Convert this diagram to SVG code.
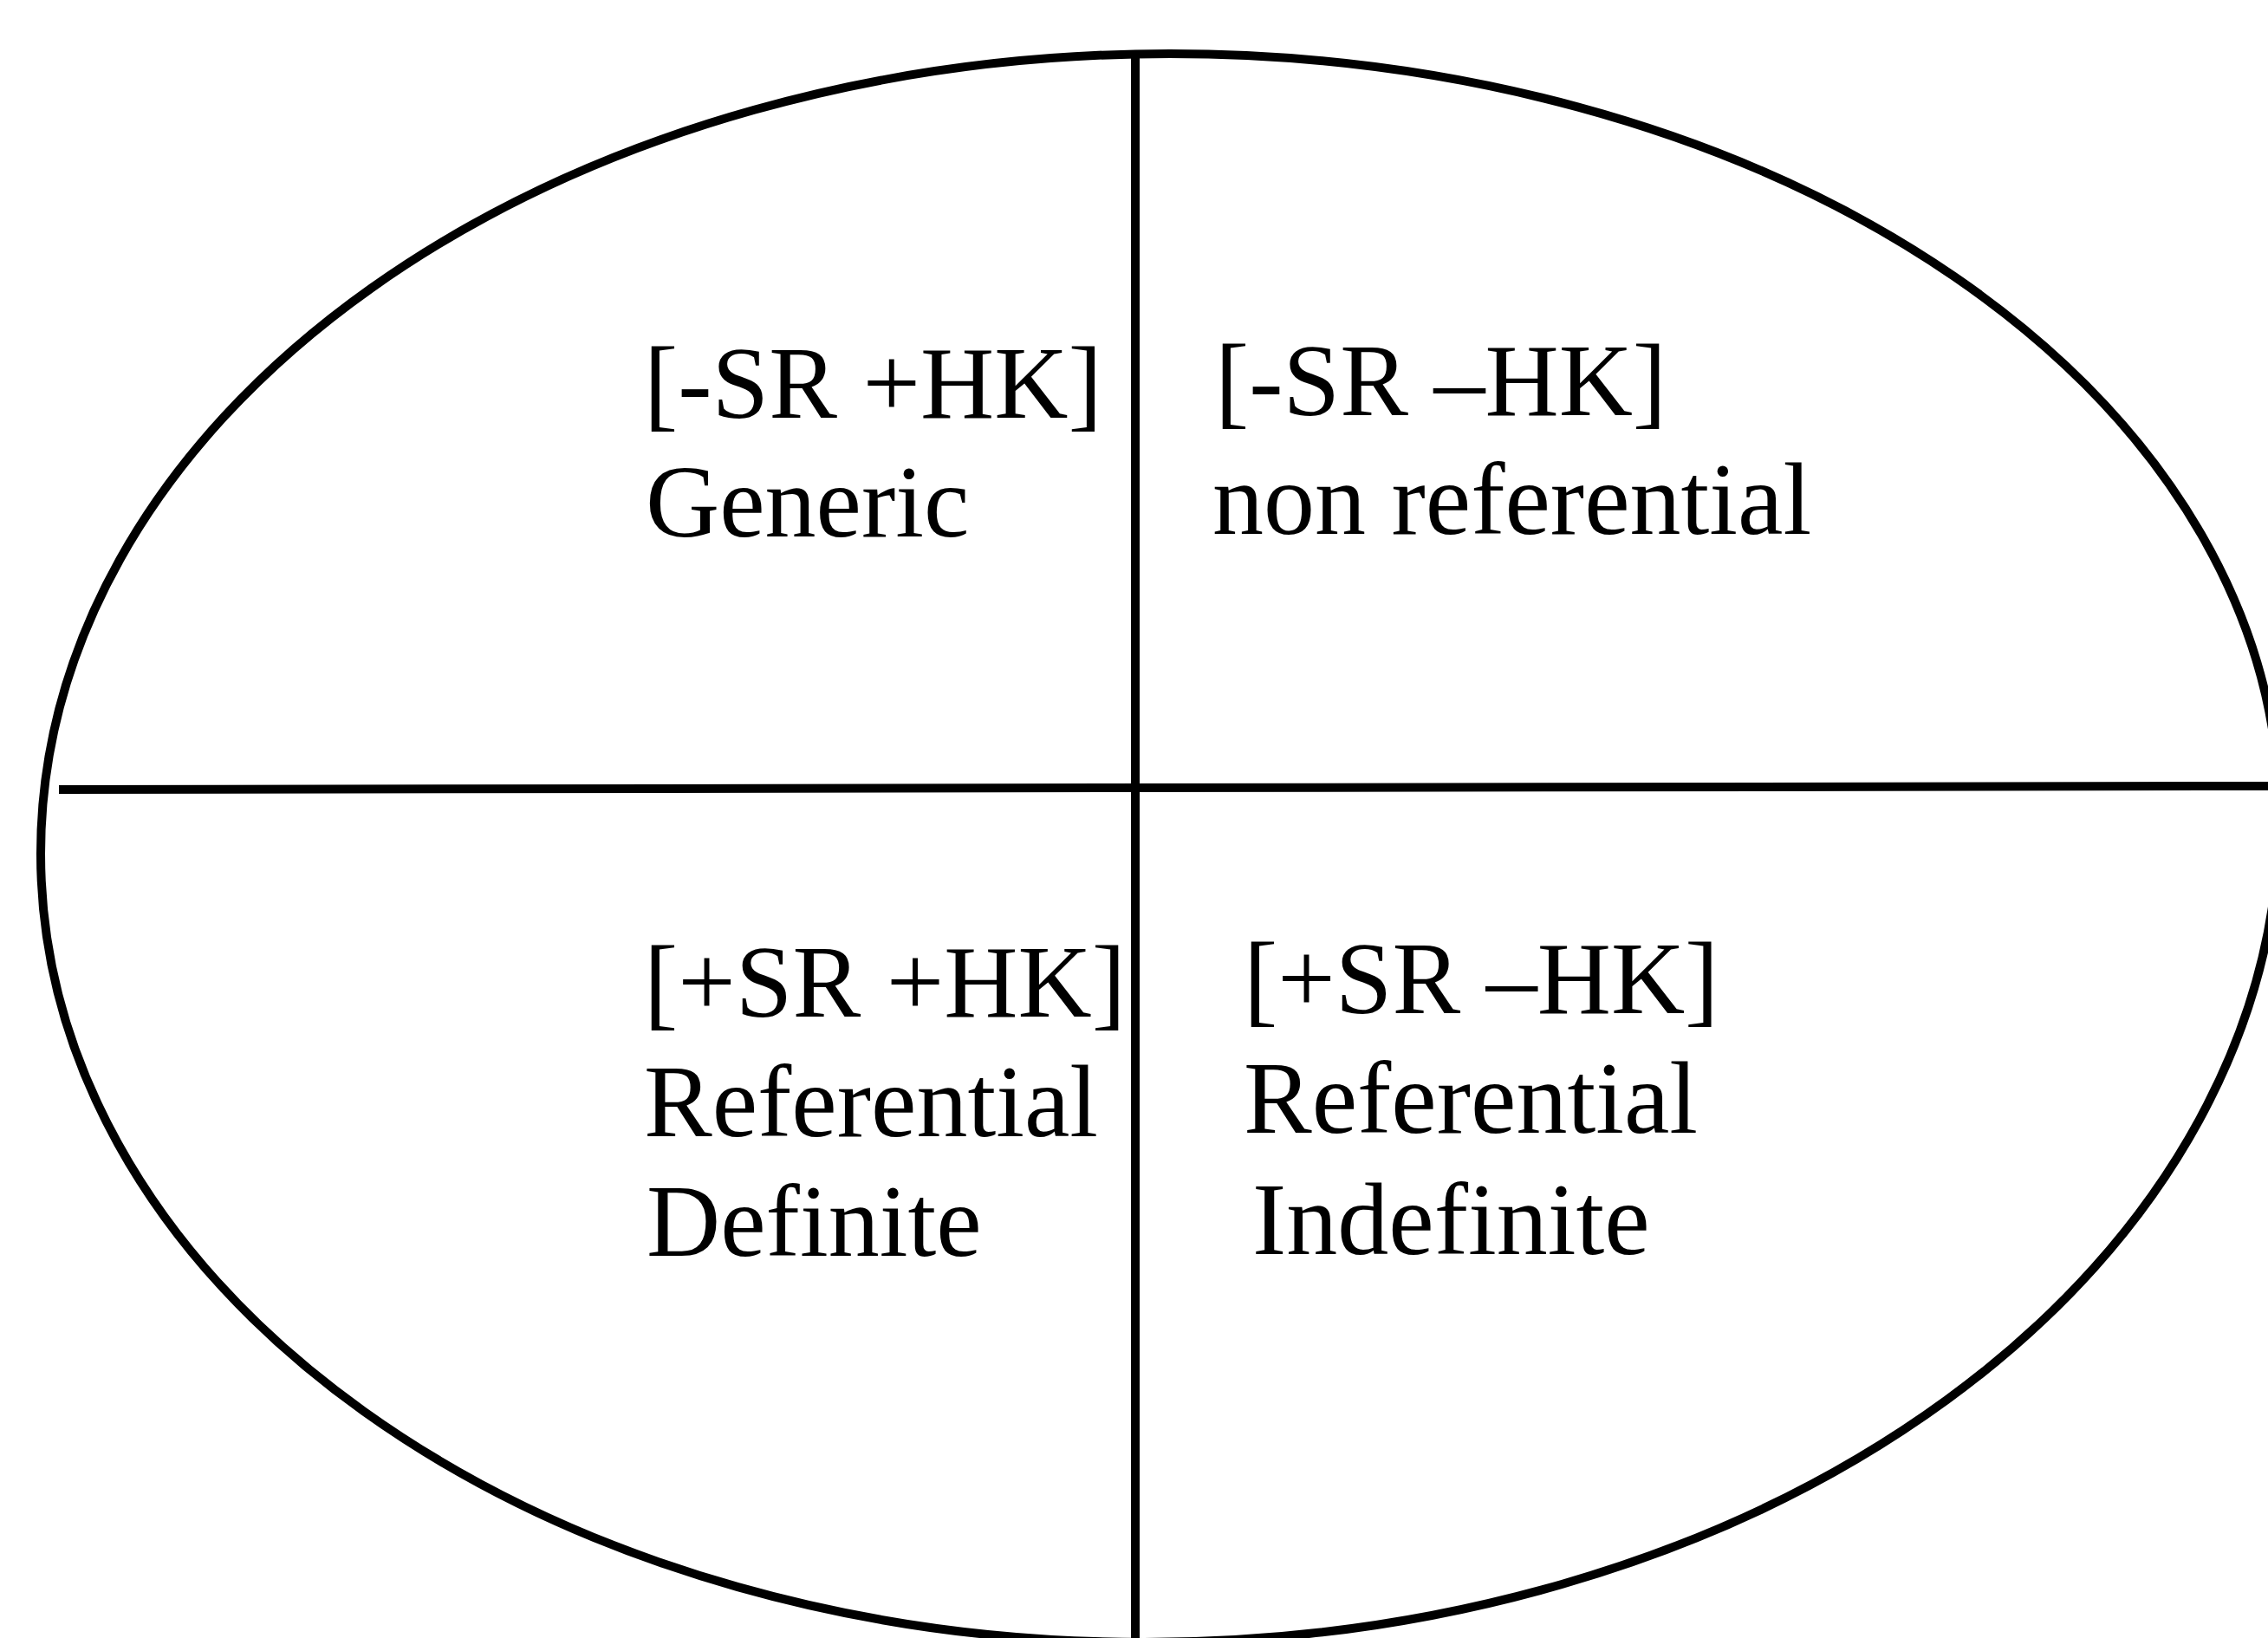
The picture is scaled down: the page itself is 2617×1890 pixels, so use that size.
<svg xmlns="http://www.w3.org/2000/svg" width="2617" height="1890" viewBox="0 0 2617 1890">
  <style>
    .stroke { fill: none; stroke: #000; stroke-width: 10; }
    .lbl { font-family: "Liberation Serif", "Times New Roman", serif; font-size: 118px; fill: #000; }
  </style>
  <rect x="0" y="0" width="2617" height="1890" fill="#fff"/>
  <g id="ellipse">
    <path class="stroke" d="M 47 985 A 1303 923 0 0 1 1350 62 A 1280 878 0 0 1 2630 940 A 1310 955 0 0 1 1320 1895 A 1273 910 0 0 1 47 985 Z"/>
  </g>
  <g id="connectors">
    <line class="stroke" x1="1310" y1="62" x2="1310" y2="1890" stroke-width="9"/>
    <line class="stroke" x1="68" y1="911" x2="2617" y2="907"/>
  </g>
  <g id="quadrant-generic">
    <text class="lbl" x="743" y="482">[-SR +HK]</text>
    <text class="lbl" x="745" y="619">Generic</text>
  </g>
  <g id="quadrant-nonreferential">
    <text class="lbl" x="1402" y="479">[-SR –HK]</text>
    <text class="lbl" x="1399" y="616">non referential</text>
  </g>
  <g id="quadrant-definite">
    <text class="lbl" x="743" y="1173">[+SR +HK]</text>
    <text class="lbl" x="743" y="1311">Referential</text>
    <text class="lbl" x="746" y="1449">Definite</text>
  </g>
  <g id="quadrant-indefinite">
    <text class="lbl" x="1435" y="1169">[+SR –HK]</text>
    <text class="lbl" x="1435" y="1307">Referential</text>
    <text class="lbl" x="1445" y="1447">Indefinite</text>
  </g>
</svg>
